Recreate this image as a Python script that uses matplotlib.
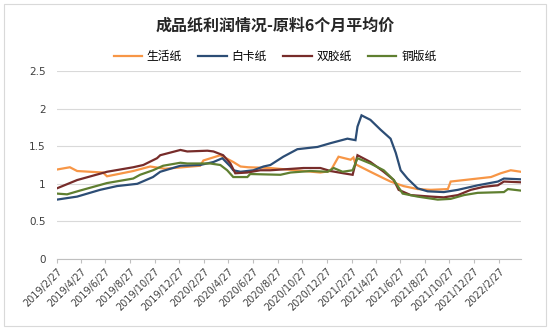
import matplotlib
matplotlib.use("Agg")
import matplotlib.pyplot as plt
import pandas as pd

plt.rcParams['font.family'] = ['Noto Sans CJK SC', 'DejaVu Sans']

title = "成品纸利润情况-原料6个月平均价"
series_names = ["生活纸", "白卡纸", "双胶纸", "铜版纸"]
colors = ["#F79646", "#2C4D75", "#772C2A", "#5F7F30"]

tick_labels = ["2019/2/27", "2019/4/27", "2019/6/27", "2019/8/27", "2019/10/27",
               "2019/12/27", "2020/2/27", "2020/4/27", "2020/6/27", "2020/8/27",
               "2020/10/27", "2020/12/27", "2021/2/27", "2021/4/27", "2021/6/27",
               "2021/8/27", "2021/10/27", "2021/12/27", "2022/2/27"]

# 生活纸
tissue_dates = ["2019-02-27", "2019-03-31", "2019-04-18", "2019-06-21", "2019-07-01",
                "2019-09-04", "2019-10-16", "2019-11-22", "2020-02-17", "2020-02-25",
                "2020-04-07", "2020-05-09", "2020-05-27", "2020-06-15", "2020-08-09",
                "2020-12-11", "2021-01-05", "2021-01-25", "2021-02-24", "2021-03-03",
                "2021-03-08", "2021-04-14", "2021-05-22", "2021-06-03", "2021-07-05",
                "2021-08-09", "2021-09-11", "2021-10-23", "2021-10-30", "2021-12-19",
                "2022-02-07", "2022-03-03", "2022-03-28", "2022-04-22"]
tissue_vals = [1.19, 1.22, 1.17, 1.15, 1.10,
               1.17, 1.23, 1.20, 1.24, 1.31,
               1.38, 1.29, 1.23, 1.22, 1.21,
               1.15, 1.17, 1.36, 1.32, 1.35,
               1.26, 1.16, 1.06, 1.03, 0.97,
               0.93, 0.92, 0.93, 1.03, 1.06,
               1.09, 1.14, 1.18, 1.16]

# 白卡纸
ivory_dates = ["2019-02-27", "2019-04-18", "2019-06-14", "2019-07-26", "2019-09-14",
               "2019-10-23", "2019-11-10", "2019-12-30", "2020-02-17", "2020-03-21",
               "2020-04-12", "2020-05-02", "2020-05-09", "2020-05-27", "2020-06-28",
               "2020-07-23", "2020-08-09", "2020-09-10", "2020-10-15", "2020-12-04",
               "2021-01-05", "2021-02-16", "2021-03-08", "2021-03-13", "2021-03-23",
               "2021-04-14", "2021-05-09", "2021-06-03", "2021-06-16", "2021-06-28",
               "2021-07-15", "2021-08-09", "2021-09-03", "2021-10-13", "2021-11-17",
               "2022-01-05", "2022-02-24", "2022-03-11", "2022-04-22"]
ivory_vals = [0.79, 0.83, 0.92, 0.97, 1.00,
              1.09, 1.16, 1.24, 1.25, 1.29,
              1.34, 1.23, 1.18, 1.16, 1.18,
              1.23, 1.25, 1.36, 1.46, 1.49,
              1.54, 1.60, 1.58, 1.76, 1.91,
              1.85, 1.72, 1.60, 1.41, 1.18,
              1.07, 0.94, 0.90, 0.89, 0.92,
              0.98, 1.03, 1.07, 1.06]

# 双胶纸
offset_dates = ["2019-02-27", "2019-04-18", "2019-07-01", "2019-09-04", "2019-09-29",
                "2019-11-02", "2019-11-10", "2019-12-30", "2020-01-16", "2020-03-06",
                "2020-03-21", "2020-04-14", "2020-05-02", "2020-05-14", "2020-06-13",
                "2020-07-15", "2020-08-09", "2020-10-30", "2020-12-11", "2021-01-05",
                "2021-02-06", "2021-03-01", "2021-03-13", "2021-04-14", "2021-05-17",
                "2021-06-11", "2021-06-23", "2021-07-23", "2021-09-11", "2021-10-13",
                "2021-11-17", "2021-12-19", "2022-01-20", "2022-02-24", "2022-03-11",
                "2022-04-22"]
offset_vals = [0.94, 1.05, 1.16, 1.22, 1.25,
               1.34, 1.38, 1.45, 1.43, 1.44,
               1.43, 1.38, 1.27, 1.14, 1.15,
               1.18, 1.18, 1.21, 1.21, 1.17,
               1.14, 1.12, 1.38, 1.29, 1.16,
               1.05, 0.92, 0.85, 0.83, 0.82,
               0.85, 0.92, 0.96, 0.98, 1.03,
               1.02]

# 铜版纸
coated_dates = ["2019-02-27", "2019-03-24", "2019-04-25", "2019-07-01", "2019-09-04",
                "2019-09-21", "2019-10-23", "2019-11-17", "2019-12-30", "2020-01-16",
                "2020-03-13", "2020-04-07", "2020-04-24", "2020-05-09", "2020-06-13",
                "2020-06-20", "2020-09-03", "2020-09-28", "2020-11-16", "2020-12-29",
                "2021-01-13", "2021-02-04", "2021-03-01", "2021-03-13", "2021-04-14",
                "2021-05-17", "2021-06-11", "2021-07-03", "2021-08-09", "2021-09-28",
                "2021-10-30", "2021-12-02", "2022-01-05", "2022-03-11", "2022-03-21",
                "2022-04-22"]
coated_vals = [0.87, 0.86, 0.91, 1.01, 1.07,
               1.12, 1.18, 1.24, 1.28, 1.27,
               1.27, 1.25, 1.18, 1.09, 1.09,
               1.13, 1.12, 1.15, 1.17, 1.16,
               1.21, 1.16, 1.18, 1.34, 1.27,
               1.18, 1.05, 0.87, 0.83, 0.79,
               0.80, 0.85, 0.88, 0.89, 0.93,
               0.91]

all_dates = [tissue_dates, ivory_dates, offset_dates, coated_dates]
all_vals = [tissue_vals, ivory_vals, offset_vals, coated_vals]

fig = plt.figure(figsize=(5.5, 3.3), dpi=100)
ax = fig.add_axes([0.1036, 0.215, 0.8434, 0.570])

for name, d, v, c in zip(series_names, all_dates, all_vals, colors):
    ax.plot(pd.to_datetime(d), v, color=c, lw=1.6, label=name, solid_joinstyle='miter')

ax.set_ylim(0, 2.5)
ax.set_yticks([0, 0.5, 1, 1.5, 2, 2.5])
ax.set_yticklabels(["0", "0.5", "1", "1.5", "2", "2.5"], family=['DejaVu Sans'])
ax.set_xlim(pd.Timestamp("2019-02-27"), pd.Timestamp("2022-04-22"))
tick_pos = pd.to_datetime(tick_labels, format="%Y/%m/%d")
ax.set_xticks(tick_pos)
ax.set_xticklabels(tick_labels, rotation=45, ha='right', rotation_mode='anchor',
                   family=['DejaVu Sans'])
ax.tick_params(axis='x', labelsize=7, colors='#404040', length=3, color='#bfbfbf', pad=2)
ax.tick_params(axis='y', labelsize=7.5, colors='#404040', length=0, pad=8)

ax.grid(axis='y', color='#d9d9d9', lw=0.8)
ax.set_axisbelow(True)
for s in ['top', 'right', 'left']:
    ax.spines[s].set_visible(False)
ax.spines['bottom'].set_color('#bfbfbf')
ax.spines['bottom'].set_linewidth(0.8)

fig.text(0.5, 0.922, title, ha='center', va='center', fontsize=11.5,
         fontweight='bold', color='#262626')
fig.legend(loc='center', bbox_to_anchor=(0.5, 0.828), ncol=4, frameon=False,
           fontsize=8.5, handlelength=2.4, columnspacing=1.4, handletextpad=0.4)

border = plt.Rectangle((0.008, 0.012), 0.984, 0.976, transform=fig.transFigure,
                       fill=False, edgecolor='#d9d9d9', lw=0.8)
fig.patches.append(border)

fig.savefig("out.png", dpi=100)
